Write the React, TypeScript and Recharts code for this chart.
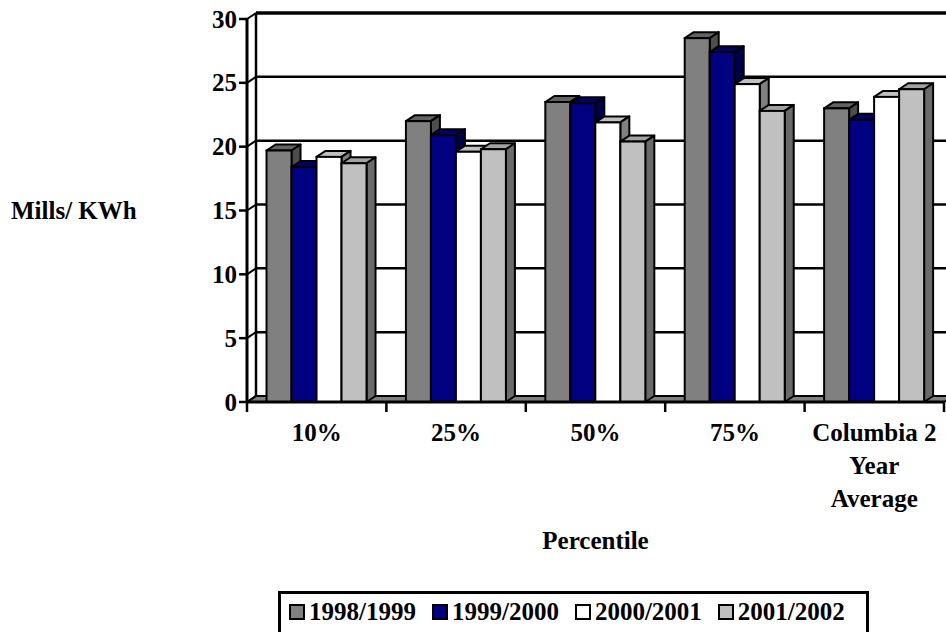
import React from 'react';
import { BarChart, Bar, XAxis, YAxis, CartesianGrid, Legend } from 'recharts';

const CATEGORIES = ['10%', '25%', '50%', '75%', 'Columbia 2\nYear\nAverage'];
const SERIES_NAMES = ['1998/1999', '1999/2000', '2000/2001', '2001/2002'];
const VALUES_1998 = [19.7, 22.0, 23.5, 28.5, 23.0];
const VALUES_1999 = [18.4, 20.9, 23.4, 27.4, 22.1];
const VALUES_2000 = [19.2, 19.6, 21.9, 24.9, 23.9];
const VALUES_2001 = [18.7, 19.8, 20.4, 22.8, 24.5];
const Y_TICKS = [0, 5, 10, 15, 20, 25, 30];

const SERIES_VALUES = [VALUES_1998, VALUES_1999, VALUES_2000, VALUES_2001];

// front / top / side shading for the 3-D columns
const FACES = [
  { front: '#808080', top: '#636363', side: '#4d4d4d' },
  { front: '#000080', top: '#000066', side: '#00004a' },
  { front: '#ffffff', top: '#c0c0c0', side: '#808080' },
  { front: '#c0c0c0', top: '#a2a2a2', side: '#6a6a6a' },
];

const WIDTH = 946;
const HEIGHT = 632;
const PLOT_TOP = 19;
const Y_AXIS_W = 247;
const X_AXIS_H = 230;
const PLOT_BOTTOM = HEIGHT - X_AXIS_H;
// depth offset of the back wall / column tops
const DX = 9;
const DY = -6;
const FONT = '"Liberation Serif", "Times New Roman", Times, serif';

const rows = CATEGORIES.map((name, i) => {
  const row: Record<string, string | number> = { name };
  SERIES_VALUES.forEach((vals, s) => {
    row[`s${s}`] = vals[i];
  });
  return row;
});

const pts = (list: number[][]) => list.map((p) => p.join(',')).join(' ');

const columnShape = (face: { front: string; top: string; side: string }) => (props: any) => {
  const { x, y, width, height } = props;
  if (x == null || y == null || !width) return <g />;
  return (
    <g>
      <polygon
        points={pts([[x, y], [x + DX, y + DY], [x + width + DX, y + DY], [x + width, y]])}
        fill={face.top}
        stroke="#000"
        strokeWidth={2}
        strokeLinejoin="round"
      />
      <polygon
        points={pts([
          [x + width, y],
          [x + width + DX, y + DY],
          [x + width + DX, y + height + DY],
          [x + width, y + height],
        ])}
        fill={face.side}
        stroke="#000"
        strokeWidth={2}
        strokeLinejoin="round"
      />
      <rect x={x} y={y} width={width} height={height} fill={face.front} stroke="#000" strokeWidth={2} />
    </g>
  );
};

// back wall gridlines, side wall diagonals and the floor
const wallLine = (props: any) => {
  const { x1, x2, y1, index } = props;
  const atFloor = Math.abs(y1 - PLOT_BOTTOM) < 1;
  const atTop = Math.abs(y1 - PLOT_TOP) < 1;
  return (
    <g key={`wall-${index}`}>
      {atFloor ? (
        <polygon
          points={pts([[x1, y1], [x2, y1], [x2 + DX, y1 + DY], [x1 + DX, y1 + DY]])}
          fill="#808080"
          stroke="#000"
          strokeWidth={2}
        />
      ) : (
        <line x1={x1 + DX} y1={y1 + DY} x2={x2 + DX} y2={y1 + DY} stroke="#000" strokeWidth={atTop ? 3.5 : 2.5} />
      )}
      <line x1={x1} y1={y1} x2={x1 + DX} y2={y1 + DY} stroke="#000" strokeWidth={2} />
      {atTop && (
        <line x1={x1 + DX} y1={y1 + DY} x2={x1 + DX} y2={PLOT_BOTTOM + DY} stroke="#000" strokeWidth={2.5} />
      )}
    </g>
  );
};

const ValueTick = (props: any) => {
  const { x, y, payload } = props;
  return (
    <text x={x} y={y} dy="0.34em" textAnchor="end" fontFamily={FONT} fontSize={25} fontWeight="bold" fill="#000">
      {payload.value}
    </text>
  );
};

const CategoryTick = (props: any) => {
  const { x, y, payload, index, width, visibleTicksCount } = props;
  const count = visibleTicksCount || CATEGORIES.length;
  const axisW = Number(width) > 300 ? Number(width) : WIDTH - Y_AXIS_W - 2;
  const half = axisW / count / 2;
  const lines = String(payload.value).split('\n');
  return (
    <g>
      <line x1={x - half} y1={y} x2={x - half} y2={y + 10} stroke="#000" strokeWidth={2.5} />
      {index === count - 1 && (
        <line x1={x + half} y1={y} x2={x + half} y2={y + 10} stroke="#000" strokeWidth={2.5} />
      )}
      <text x={x} y={y + 39} textAnchor="middle" fontFamily={FONT} fontSize={25} fontWeight="bold" fill="#000">
        {lines.map((l, i) => (
          <tspan key={i} x={x} dy={i === 0 ? 0 : 33}>
            {l}
          </tspan>
        ))}
      </text>
    </g>
  );
};

const LegendBox = (props: any) => {
  const items = props.payload && props.payload.length
    ? props.payload.map((p: any) => ({ label: p.value, color: p.color }))
    : SERIES_NAMES.map((n, i) => ({ label: n, color: FACES[i].front }));
  return (
    <div
      style={{
        display: 'flex',
        alignItems: 'flex-start',
        boxSizing: 'border-box',
        width: 591,
        height: 50,
        border: '3px solid #000',
        borderBottom: 'none',
        padding: '5px 0 0 8px',
        fontFamily: FONT,
        fontSize: 25,
        fontWeight: 'bold',
        lineHeight: '25px',
        color: '#000',
        background: '#fff',
        whiteSpace: 'nowrap',
      }}
    >
      {items.map((it: any, i: number) => (
        <div key={it.label} style={{ display: 'flex', alignItems: 'center', marginRight: i < items.length - 1 ? 16 : 0 }}>
          <span
            style={{
              display: 'inline-block',
              width: 16,
              height: 16,
              boxSizing: 'border-box',
              border: '2px solid #000',
              background: it.color,
              marginRight: 4,
            }}
          />
          <span>{it.label}</span>
        </div>
      ))}
    </div>
  );
};

export default function App() {
  return (
    <div
      className="mills-chart"
      style={{
        position: 'absolute',
        left: 0,
        top: 0,
        width: WIDTH,
        height: HEIGHT,
        overflow: 'hidden',
        background: '#fff',
        fontFamily: FONT,
      }}
    >
      <style>{`.mills-chart svg text { font-family: ${FONT}; font-weight: bold; }`}</style>
      <BarChart
        width={WIDTH}
        height={HEIGHT}
        data={rows}
        margin={{ top: PLOT_TOP, right: 2, bottom: 0, left: 0 }}
        barGap={0}
        barCategoryGap="14%"
      >
        <CartesianGrid vertical={false} horizontal={wallLine} />
        <XAxis
          dataKey="name"
          height={X_AXIS_H}
          interval={0}
          tickSize={0}
          tickMargin={0}
          tickLine={false}
          axisLine={{ stroke: '#000', strokeWidth: 3 }}
          tick={<CategoryTick />}
          label={{
            value: 'Percentile',
            position: 'insideTop',
            offset: 129,
            fill: '#000',
            fontSize: 25,
            fontWeight: 'bold',
          }}
        />
        <YAxis
          width={Y_AXIS_W}
          domain={[0, 30]}
          ticks={Y_TICKS}
          interval={0}
          tickSize={8}
          tickMargin={2}
          axisLine={{ stroke: '#000', strokeWidth: 3 }}
          tickLine={{ stroke: '#000', strokeWidth: 2.5 }}
          tick={<ValueTick />}
          label={{
            value: 'Mills/ KWh',
            position: 'insideLeft',
            offset: 11,
            fill: '#000',
            fontSize: 25,
            fontWeight: 'bold',
          }}
        />
        <Legend
          layout="horizontal"
          verticalAlign="middle"
          align="center"
          width={591}
          wrapperStyle={{ left: 278, top: 591, width: 591, height: 50 }}
          content={<LegendBox />}
        />
        {SERIES_NAMES.map((name, s) => (
          <Bar
            key={name}
            dataKey={`s${s}`}
            name={name}
            fill={FACES[s].front}
            legendType="square"
            shape={columnShape(FACES[s])}
            isAnimationActive={false}
          />
        ))}
      </BarChart>
    </div>
  );
}
